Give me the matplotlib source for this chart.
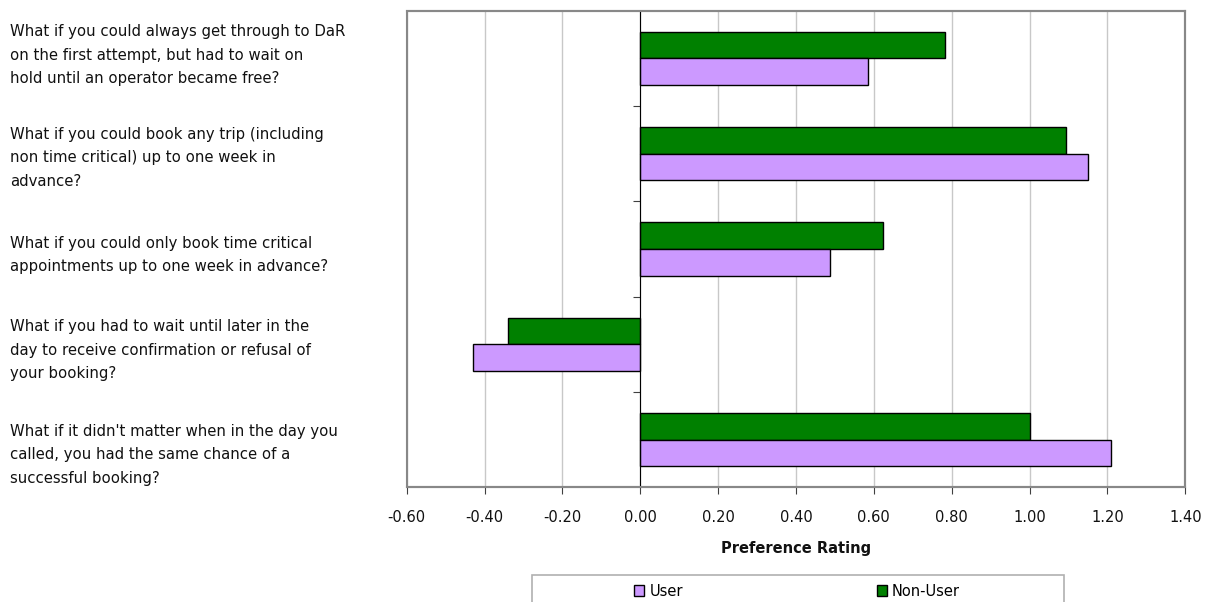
import matplotlib.pyplot as plt
import matplotlib.patches as mpatches
import matplotlib.transforms as mtransforms
import numpy as np

questions = [
    "What if you could always get through to DaR\non the first attempt, but had to wait on\nhold until an operator became free?",
    "What if you could book any trip (including\nnon time critical) up to one week in\nadvance?",
    "What if you could only book time critical\nappointments up to one week in advance?",
    "What if you had to wait until later in the\nday to receive confirmation or refusal of\nyour booking?",
    "What if it didn't matter when in the day you\ncalled, you had the same chance of a\nsuccessful booking?",
]
user = [0.585, 1.15, 0.488, -0.429, 1.208]
non_user = [0.782, 1.094, 0.624, -0.339, 1.00]
xticks = np.arange(-0.6, 1.41, 0.2)

# text blocks sit a little off the bar centres (pixels, down is positive)
label_shift = [-3, 4, 6, 6, 15]

W, H = 1218, 602
fig = plt.figure(figsize=(W / 100, H / 100), dpi=100)
ax = fig.add_axes([406.7 / W, 1 - 487.3 / H, 778.6 / W, 476.6 / H])

y = np.arange(len(questions))
h = 0.28
ax.barh(y - h / 2, non_user, height=h, color='#008000', edgecolor='black',
        linewidth=1.0, label='Non-User', zorder=3)
ax.barh(y + h / 2, user, height=h, color='#CC99FF', edgecolor='black',
        linewidth=1.0, label='User', zorder=3)

ax.set_xlim(-0.6, 1.4)
ax.set_ylim(len(questions) - 0.5, -0.5)
ax.set_xticks(xticks)
ax.set_xticklabels([f"{v:.2f}" for v in xticks], fontsize=10.5, color='#111111')
ax.tick_params(axis='x', direction='out', length=5, color='#404040', pad=11.5)
ax.xaxis.grid(True, color='#C8C8C8', linewidth=1, zorder=0)

# category separators on the zero line
ax.set_yticks(np.arange(len(questions) - 1) + 0.5)
ax.set_yticklabels([])
ax.tick_params(axis='y', direction='out', length=5, color='#404040')

ax.spines['left'].set_position(('data', 0))
ax.spines['left'].set_color('black')
ax.spines['left'].set_zorder(4)
for s in ['top', 'right', 'bottom']:
    ax.spines[s].set_color('#888888')
    ax.spines[s].set_linewidth(1.5)
ax.add_patch(mpatches.Rectangle((0, 0), 1, 1, transform=ax.transAxes, fill=False,
                                edgecolor='#888888', linewidth=1.5, zorder=5,
                                clip_on=False))

ax.set_xlabel('Preference Rating', fontsize=10.5, fontweight='bold',
              color='#111111', labelpad=11.5)

trans = mtransforms.blended_transform_factory(fig.transFigure, ax.transData)
for i, q in enumerate(questions):
    ax.annotate(q, xy=(10 / W, i), xycoords=trans, xytext=(0, -label_shift[i] * 0.72),
                textcoords='offset points', ha='left', va='center',
                fontsize=10.75, color='#111111', linespacing=1.7,
                annotation_clip=False)

# legend box runs off the bottom edge
fig.patches.append(mpatches.Rectangle((532 / W, -0.05), 532 / W, 0.05 + 27 / H,
                                      transform=fig.transFigure, fill=False,
                                      edgecolor='#B0B0B0', linewidth=1.2))
handles, labels = ax.get_legend_handles_labels()
fig.legend(handles[::-1], labels[::-1], loc='center', bbox_to_anchor=(797 / W, 11 / H),
           ncol=2, frameon=False, handlelength=0.7, handleheight=0.7,
           handletextpad=0.35, columnspacing=13.3, prop={'size': 10.5})

plt.savefig('out.png', dpi=100)
